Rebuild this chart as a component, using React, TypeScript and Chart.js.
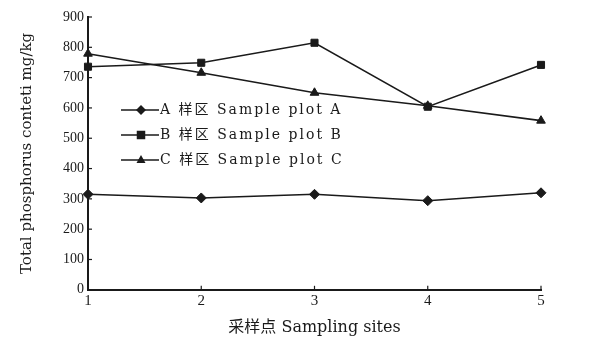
import React, { useEffect, useRef } from "react";
import { Chart, registerables } from "chart.js";

Chart.register(...registerables);

const sites = ["1", "2", "3", "4", "5"];
const plotA = [315, 303, 315, 294, 320];
const plotB = [736, 749, 815, 604, 742];
const plotC = [779, 716, 650, 607, 558];
const seriesNames = ["A 样区 Sample plot A", "B 样区 Sample plot B", "C 样区 Sample plot C"];
const pointShapes = ["rectRot", "rect", "triangle"];
const yTitle = "Total phosphorus conteti mg/kg";
const xTitle = "采样点 Sampling sites";

const FONT = '"Liberation Serif", "Noto Sans CJK SC", serif';
const WFONT = '"DejaVu Serif", "Noto Sans CJK SC", serif';
const INK = "#1a1a1a";

function drawMarker(ctx: CanvasRenderingContext2D, shape: string, x: number, y: number, r: number) {
  ctx.beginPath();
  if (shape === "rectRot") {
    ctx.moveTo(x, y - r);
    ctx.lineTo(x + r, y);
    ctx.lineTo(x, y + r);
    ctx.lineTo(x - r, y);
  } else if (shape === "rect") {
    const s = r * 0.85;
    ctx.rect(x - s, y - s, 2 * s, 2 * s);
  } else {
    ctx.moveTo(x, y - r);
    ctx.lineTo(x + r * 0.9, y + r * 0.6);
    ctx.lineTo(x - r * 0.9, y + r * 0.6);
  }
  ctx.closePath();
  ctx.fill();
}

const innerTicks = {
  id: "innerTicks",
  afterDraw(chart: any) {
    const ctx = chart.ctx;
    const xs = chart.scales.x;
    const ys = chart.scales.y;
    const area = chart.chartArea;
    ctx.save();
    ctx.strokeStyle = INK;
    ctx.lineWidth = 1.2;
    ys.ticks.forEach((_t: any, i: number) => {
      const py = ys.getPixelForTick(i);
      ctx.beginPath();
      ctx.moveTo(area.left, py);
      ctx.lineTo(area.left + 4, py);
      ctx.stroke();
    });
    xs.ticks.forEach((_t: any, i: number) => {
      const px = xs.getPixelForTick(i);
      ctx.beginPath();
      ctx.moveTo(px, area.bottom);
      ctx.lineTo(px, area.bottom - 4);
      ctx.stroke();
    });
    // legend
    const lx = area.left + 33;
    const rows = [area.top + 93, area.top + 118, area.top + 143];
    ctx.fillStyle = INK;
    ctx.textBaseline = "middle";
    seriesNames.forEach((name, i) => {
      const y = rows[i];
      ctx.lineWidth = 1.5;
      ctx.beginPath();
      ctx.moveTo(lx, y);
      ctx.lineTo(lx + 38, y);
      ctx.stroke();
      drawMarker(ctx, pointShapes[i], lx + 20, y, 5);
      ctx.font = "14px " + WFONT;
      (ctx as any).letterSpacing = "2px";
      ctx.fillText(name, lx + 39, y);
    });
    ctx.restore();
  },
};

export default function App() {
  const ref = useRef<HTMLCanvasElement>(null);
  useEffect(() => {
    const mk = (label: string, data: number[], shape: string) => ({
      label,
      data,
      borderColor: INK,
      backgroundColor: INK,
      borderWidth: 1.6,
      pointStyle: shape,
      pointRadius: 5,
      pointBorderWidth: 1,
      tension: 0,
    });
    const chart = new Chart(ref.current!, {
      type: "line",
      data: {
        labels: sites,
        datasets: [
          mk(seriesNames[0], plotA, pointShapes[0]),
          mk(seriesNames[1], plotB, pointShapes[1]),
          mk(seriesNames[2], plotC, pointShapes[2]),
        ],
      },
      options: {
        animation: false,
        responsive: false,
        layout: { padding: { left: 18, right: 57, top: 17, bottom: 10 } },
        plugins: { legend: { display: false }, tooltip: { enabled: false } },
        scales: {
          x: {
            offset: false,
            grid: { display: false, drawTicks: false },
            border: { display: true, color: INK, width: 2 },
            ticks: { color: INK, font: { family: FONT, size: 15 }, padding: 2 },
            title: { display: true, text: xTitle, color: INK, font: { family: WFONT, size: 16 }, padding: { top: 6, bottom: 0 } },
          },
          y: {
            min: 0,
            max: 900,
            grid: { display: false, drawTicks: false },
            border: { display: true, color: INK, width: 2 },
            ticks: { stepSize: 100, color: INK, font: { family: FONT, size: 14 }, padding: 4 },
            title: { display: true, text: yTitle, color: INK, font: { family: WFONT, size: 15 }, padding: { top: 0, bottom: 23 } },
          },
        },
      },
      plugins: [innerTicks],
    });
    return () => chart.destroy();
  }, []);
  return (
    <div style={{ position: "fixed", left: 0, top: 0, width: 598, height: 347, background: "#fff" }}>
      <canvas ref={ref} width={598} height={347} />
    </div>
  );
}
